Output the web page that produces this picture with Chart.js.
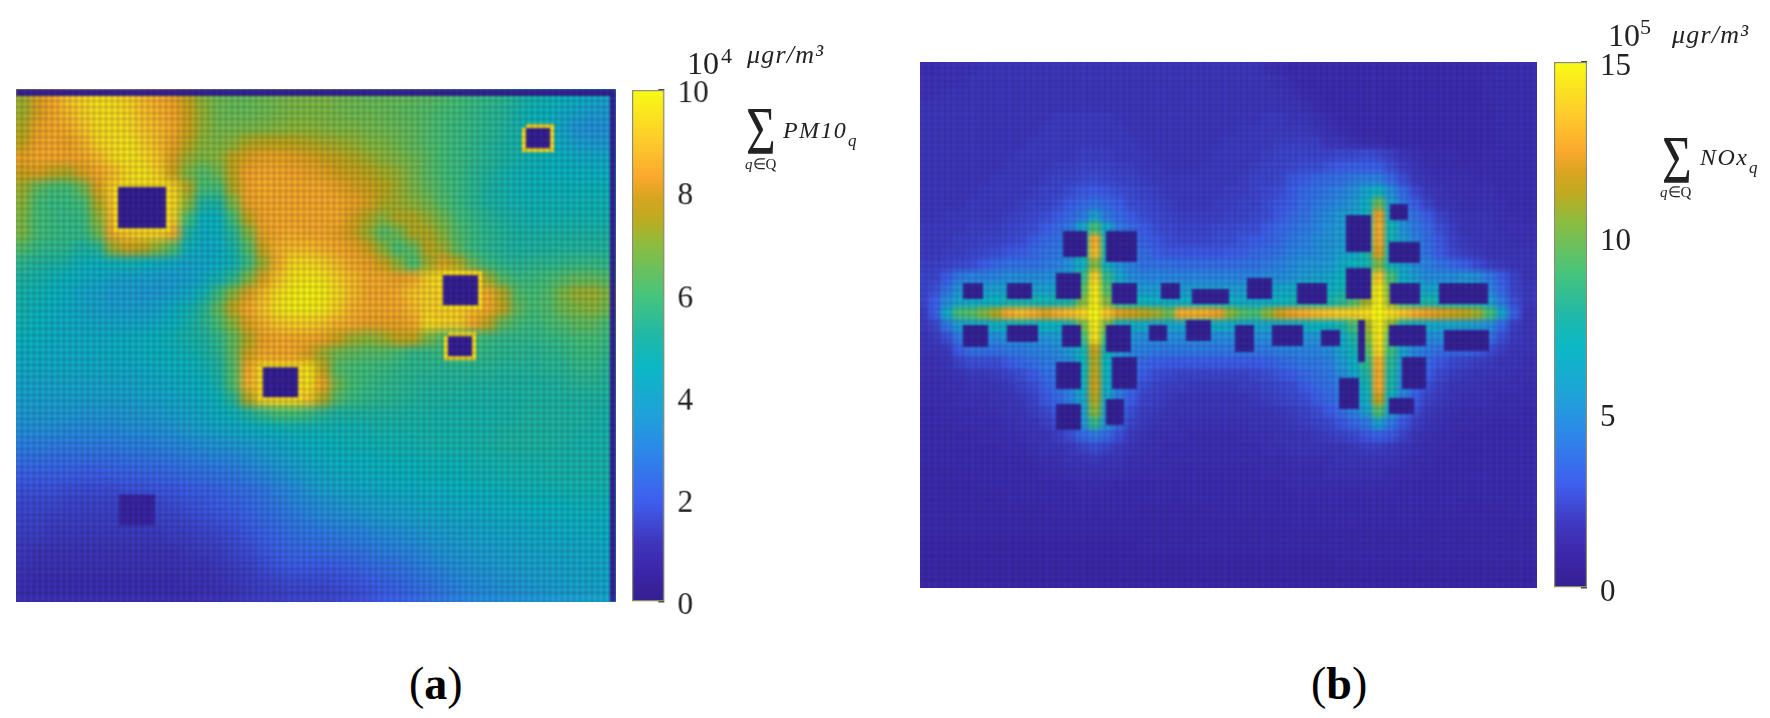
<!DOCTYPE html>
<html><head><meta charset="utf-8">
<script src="https://cdn.jsdelivr.net/npm/chart.js@4/dist/chart.umd.js"></script>
<style>
html,body{margin:0;padding:0;background:#fff;overflow:hidden;width:1770px;height:718px}
.clip{position:absolute;overflow:hidden}
.t{position:absolute;font-family:"Liberation Serif",serif;line-height:1;white-space:nowrap;color:#222;filter:blur(.45px)}
.i{font-style:italic}
</style></head><body>
<script>
// Panel (a): sum of PM10_q, units of 10^3 ugr/m3 (0..100 = colourbar 0..10 x 10^4)
const pm10Rows = [
[72,80,84,90,93,95,94,92,88,85, 82,76,70,66,65,65,66,67,68,68, 68,67,66,65,65,65,64,63,62,60, 58,57,55,52,50,48,46,44,42,40],
[72,80,84,88,92,95,95,93,89,86, 83,78,71,66,65,65,66,67,68,68, 68,67,66,66,65,64,63,62,60,59, 57,55,54,50,47,46,42,40,37,36],
[74,82,84,85,90,94,95,94,90,88, 84,78,71,67,67,67,68,69,70,70, 69,68,68,67,66,65,64,62,60,58, 57,55,53,50,48,48,40,34,33,34],
[76,83,84,82,86,93,95,96,92,88, 82,75,70,68,70,74,75,75,75,74, 73,72,71,69,68,66,64,62,60,58, 56,54,52,50,48,47,42,38,36,36],
[82,84,84,83,84,88,94,96,94,90, 80,72,68,70,76,80,82,82,81,80, 78,76,74,72,70,68,66,63,60,58, 56,54,52,50,48,47,45,43,42,42],
[78,80,76,74,80,84,88,94,96,92, 78,68,62,66,76,83,84,84,83,82, 81,79,77,75,73,71,67,63,60,58, 55,53,50,48,47,46,46,45,45,45],
[72,64,60,60,66,80,92,96,96,96, 92,74,60,60,74,83,85,84,84,84, 84,82,80,78,75,72,68,64,61,58, 55,52,50,48,47,47,47,47,47,47],
[70,60,58,58,60,74,90,92,92,92, 94,70,52,52,68,82,84,84,84,84, 84,84,82,80,74,72,70,67,62,58, 55,52,50,49,48,48,48,48,48,48],
[68,60,58,57,58,70,88,90,90,90, 92,60,46,46,60,76,83,84,84,84, 84,84,80,74,70,74,74,71,66,60, 57,54,52,50,49,49,49,49,49,49],
[68,60,58,57,57,66,84,90,92,92, 85,52,44,45,54,68,82,84,85,84, 84,82,78,72,62,66,74,74,69,62, 58,55,53,51,51,51,51,51,51,51],
[62,57,56,55,52,54,72,78,75,70, 62,47,42,43,50,62,78,86,88,88, 86,84,82,78,70,60,64,75,72,63, 58,55,53,52,52,52,53,53,53,53],
[55,53,52,50,47,46,47,48,46,44, 42,40,41,44,48,58,72,85,94,94, 92,88,84,82,78,70,60,72,80,74, 64,58,55,54,55,55,56,57,57,56],
[52,50,48,46,44,42,40,39,38,37, 37,38,42,48,55,68,80,90,96,97, 96,92,88,84,84,82,84,92,96,95, 84,72,62,58,58,60,62,64,64,62],
[50,48,46,44,41,39,37,37,36,36, 38,42,48,58,70,80,88,95,98,99, 98,94,88,84,84,85,90,92,92,92, 88,84,74,62,60,62,68,72,72,68],
[49,47,45,43,41,39,38,38,38,40, 44,48,54,64,76,84,90,96,98,98, 97,92,86,84,84,84,88,92,92,92, 88,84,76,64,60,62,66,68,70,66],
[48,46,44,43,42,41,41,41,41,43, 46,50,54,60,70,80,86,90,92,92, 90,86,84,82,82,82,84,94,92,92, 84,76,64,60,58,60,62,64,64,60],
[46,45,44,43,43,43,44,44,45,46, 48,50,52,56,64,74,82,84,84,84, 82,78,72,70,72,76,76,68,62,62, 60,58,56,56,56,57,58,60,60,58],
[44,44,43,43,43,43,44,44,45,46, 47,48,50,54,64,78,84,84,84,80, 72,66,64,62,62,60,56,56,58,60, 58,56,55,55,54,55,56,58,58,56],
[42,42,42,42,42,42,42,42,43,44, 45,46,48,52,62,84,94,92,92,96, 76,62,60,59,58,56,55,55,54,54, 54,54,53,53,53,54,54,56,56,54],
[40,40,40,40,40,40,40,40,41,42, 43,44,46,50,62,86,92,90,90,96, 82,66,60,58,56,55,54,53,53,53, 52,52,52,52,52,52,53,54,54,53],
[38,38,38,38,38,38,38,38,39,40, 41,42,44,47,54,74,92,94,94,90, 74,62,58,56,55,54,53,52,52,51, 51,51,51,51,52,52,52,52,52,52],
[36,36,36,36,35,35,35,36,36,37, 38,40,42,44,47,52,56,60,60,58, 54,52,52,52,52,52,51,51,50,50, 50,50,50,51,52,52,52,52,51,50],
[33,33,33,32,32,32,32,33,33,34, 35,37,39,41,42,44,45,47,48,48, 48,48,48,49,50,50,50,50,50,50, 50,50,51,52,52,52,52,51,50,50],
[29,29,28,28,28,28,28,29,29,30, 31,32,34,35,36,37,39,41,43,45, 46,47,48,48,49,49,49,50,50,50, 50,51,52,52,52,52,51,50,50,50],
[25,25,24,24,24,24,24,25,25,26, 27,28,29,30,31,33,35,37,39,42, 44,45,46,46,47,47,47,48,48,48, 49,49,50,50,50,50,50,50,50,50],
[21,21,21,21,20,20,21,21,22,22, 23,24,25,26,27,29,31,33,36,39, 41,43,44,45,45,46,46,47,47,47, 48,48,49,49,49,50,50,50,50,50],
[18,18,18,17,17,17,17,18,18,19, 19,20,21,22,24,25,27,30,32,35, 38,40,41,42,43,44,44,45,45,46, 46,47,47,48,48,48,49,49,49,49],
[16,16,16,15,15,15,15,15,16,16, 17,18,19,20,21,23,25,27,30,32, 34,35,37,38,39,40,41,42,42,43, 44,44,45,45,46,46,46,47,47,47],
[15,15,14,14,14,14,14,14,14,15, 15,16,17,18,19,21,23,25,27,29, 31,32,33,35,36,37,38,39,40,41, 41,42,43,43,44,44,45,45,45,45],
[14,14,13,13,13,13,13,13,13,13, 14,14,15,16,17,19,21,23,25,26, 27,28,29,30,32,33,34,36,37,38, 39,40,41,41,42,42,43,43,44,44],
[13,12,12,12,12,12,12,12,12,12, 12,13,14,14,16,17,19,21,23,23, 24,25,26,27,29,30,31,33,35,36, 37,38,39,40,40,41,41,42,42,43],
[12,11,11,11,11,11,11,11,11,11, 11,12,12,13,14,15,17,19,20,20, 20,21,22,24,25,26,28,30,32,34, 35,36,37,38,39,39,40,40,41,42],
[11,10,10,10,10,10,10,10,10,10, 10,11,11,12,13,14,15,16,17,17, 17,18,19,20,22,23,25,27,29,31, 33,34,35,36,37,38,39,40,40,41],
[10,10,10,10,10,10,10,10,10,10, 10,10,11,11,12,13,14,14,15,15, 15,16,17,18,20,21,23,25,27,29, 31,32,33,34,35,36,37,38,39,40]
];
// Panel (b): sum of NOx_q, percent of colourbar top (100 = 15 x 10^5)
const noxRows = [
[10,10,11,11,11,12,12,12,12,12, 12,12,12,12,12,12,12,12,12,12, 12,12,12,12,12,12,12,12,11,10, 9,9,9,9,9,9,9,9,9,9, 9,9,9,9,9,9,9,10,10,10],
[11,11,11,11,12,12,12,12,12,12, 12,12,12,12,12,12,12,12,12,12, 12,12,12,12,12,12,12,12,12,11, 10,9,9,9,9,9,9,9,9,9, 9,9,9,9,9,9,10,10,10,10],
[11,11,12,12,12,12,12,12,12,12, 12,12,12,12,12,12,12,12,12,12, 12,12,12,12,12,12,12,12,12,12, 11,10,9,9,9,9,9,9,9,9, 9,9,9,9,9,9,10,10,10,10],
[12,12,12,12,12,12,12,12,12,12, 12,12,12,12,12,12,12,12,12,12, 12,12,12,12,12,12,12,12,12,12, 12,11,10,9,9,9,9,9,9,9, 9,9,9,9,9,9,9,10,10,10],
[12,12,12,12,12,12,12,12,12,12, 12,13,13,13,13,13,12,12,12,12, 12,12,12,12,12,12,12,12,13,13, 12,12,11,10,9,9,9,9,9,9, 9,9,9,9,9,9,9,10,10,10],
[12,12,12,12,12,12,12,12,12,12, 13,13,13,13,13,13,13,12,12,12, 12,12,12,12,12,12,13,13,13,13, 13,13,12,11,10,9,9,9,9,9, 9,9,9,9,9,9,9,10,10,10],
[12,12,12,12,12,12,12,12,12,13, 13,13,13,13,13,13,13,13,12,12, 12,12,12,12,12,13,13,13,13,14, 14,14,14,12,12,11,10,10,9,9, 9,9,9,9,9,9,9,10,10,10],
[12,12,12,12,12,12,12,12,13,13, 13,13,13,14,14,14,13,13,13,12, 12,12,12,12,13,13,13,13,14,15, 15,15,15,15,16,16,17,16,14,12, 11,10,10,10,9,9,10,10,10,10],
[12,12,12,12,12,12,12,13,13,13, 13,14,14,15,15,15,14,14,13,13, 12,12,12,13,13,13,13,14,15,15, 16,17,17,19,20,21,21,21,17,14, 12,11,10,10,10,10,10,10,10,10],
[12,12,12,12,12,12,13,13,13,13, 14,15,15,16,17,16,15,15,14,13, 13,13,13,13,13,13,14,15,15,16, 19,20,23,24,25,27,29,29,23,17, 13,12,11,11,11,10,10,10,10,10],
[12,12,12,12,12,13,13,13,13,14, 15,15,17,19,20,19,17,16,15,14, 13,13,13,13,13,14,14,15,16,17, 20,23,25,27,29,33,40,45,32,23, 16,13,12,11,11,11,11,10,10,10],
[12,12,12,12,13,13,13,13,14,15, 15,17,20,23,25,23,20,17,16,15, 14,13,13,13,14,14,15,15,17,19, 21,24,27,29,32,36,44,65,38,27, 20,15,12,12,11,11,11,11,10,10],
[12,12,13,13,13,13,13,14,15,16, 17,20,23,27,38,27,23,20,17,16, 15,14,14,14,14,15,15,16,17,20, 23,25,29,32,36,38,46,82,44,30, 25,20,15,13,12,12,12,11,11,10],
[13,13,13,13,14,14,14,15,16,17, 20,23,27,40,60,40,27,23,20,17, 16,15,15,15,16,16,17,17,20,23, 25,27,30,34,36,38,50,84,48,34, 27,23,17,14,12,12,12,11,11,11],
[13,13,13,14,14,15,15,16,17,20, 23,25,30,48,85,48,30,25,21,19, 17,16,16,16,17,17,19,20,21,24, 27,29,32,34,36,38,52,84,48,36, 29,24,19,15,13,12,12,12,11,11],
[13,13,14,14,15,16,17,19,20,23, 25,27,34,50,88,50,34,27,24,21, 19,19,19,19,19,20,21,23,24,26, 29,30,32,34,38,42,50,80,48,38, 30,25,20,16,14,13,12,12,12,12],
[14,14,15,16,17,20,23,25,25,25, 27,29,34,44,70,44,34,29,25,25, 25,24,24,24,24,24,25,25,27,29, 32,34,34,36,42,46,48,68,48,40, 32,29,25,23,20,17,14,13,12,12],
[15,15,20,27,29,29,30,32,32,32, 32,34,38,56,92,56,40,32,30,30, 30,30,30,30,30,30,30,30,32,32, 34,36,38,40,46,52,62,90,60,42, 36,32,32,32,34,32,27,20,15,12],
[15,17,25,34,36,36,38,38,38,38, 38,40,42,62,97,62,42,38,36,36, 36,36,36,36,36,36,36,36,38,40, 42,42,42,44,48,56,68,97,66,46, 40,40,40,40,42,40,30,23,15,13],
[15,20,32,40,42,44,46,50,50,50, 48,50,52,68,97,68,50,48,46,44, 44,44,46,48,46,44,42,42,44,46, 48,50,50,50,54,62,72,98,70,54, 50,50,48,46,46,46,38,27,17,13],
[13,20,42,60,62,68,74,84,88,85, 80,85,88,92,100,90,80,78,75,72, 66,85,85,85,82,70,62,60,70,78, 82,85,88,90,92,92,95,100,95,90, 85,82,80,78,75,72,60,40,21,12],
[13,15,27,36,40,42,44,46,48,46, 46,46,50,66,97,66,46,44,42,40, 40,40,44,46,44,42,40,40,40,42, 44,44,46,46,50,60,72,98,70,48, 44,42,40,40,38,36,32,23,14,12],
[12,13,17,27,30,30,32,34,34,34, 34,36,40,58,95,58,38,34,32,32, 32,32,32,32,32,32,32,32,32,34, 34,34,34,36,42,52,68,96,62,40, 34,32,32,30,30,29,25,17,13,12],
[12,12,13,20,25,25,25,27,27,29, 30,32,36,48,78,48,36,30,29,27, 27,27,27,27,27,27,27,27,27,29, 29,30,30,32,40,48,62,94,58,38, 30,27,25,23,23,21,17,14,12,12],
[11,11,12,15,17,17,17,20,23,25, 27,29,32,46,74,46,32,27,23,21, 20,20,20,20,20,20,20,20,21,23, 25,27,27,29,36,44,56,85,54,36, 27,23,19,16,15,14,13,12,12,11],
[11,11,11,12,13,13,14,15,17,20, 24,27,32,46,76,46,30,25,20,17, 16,15,15,15,15,15,15,16,17,19, 20,23,25,27,32,40,52,84,52,34, 25,20,16,14,13,12,12,12,11,11],
[10,10,11,11,12,12,12,13,15,17, 21,25,30,44,78,44,29,23,17,15, 14,14,13,13,13,13,14,14,15,16, 17,20,23,25,29,36,48,84,50,32, 23,17,14,12,12,12,11,11,11,10],
[10,10,10,11,11,11,12,12,13,15, 19,23,29,40,74,40,27,20,15,14, 13,12,12,12,12,12,12,13,14,15, 16,17,20,23,27,34,44,78,44,29, 20,15,13,12,11,11,11,10,10,10],
[9,9,10,10,10,11,11,12,12,14, 16,20,27,38,70,38,25,17,14,13, 12,12,12,12,12,12,12,12,12,13, 14,15,17,20,24,29,38,62,38,25, 17,13,12,11,10,10,10,10,10,9],
[9,9,9,10,10,10,10,11,12,12, 14,17,23,34,56,34,23,15,13,12, 12,11,11,11,11,11,11,12,12,12, 13,14,15,16,19,23,27,38,27,19, 14,12,11,10,10,10,9,9,9,9],
[9,9,9,9,9,10,10,10,11,12, 12,14,17,23,27,23,17,13,12,11, 11,11,10,10,10,10,11,11,11,12, 12,12,13,14,15,16,19,21,19,15, 12,11,10,10,9,9,9,9,9,9],
[9,9,9,9,9,9,9,10,10,11, 12,12,13,15,17,15,13,12,11,11, 10,10,10,10,10,10,10,10,11,11, 12,12,12,12,12,13,14,14,13,12, 11,10,10,9,9,9,9,9,9,9],
[9,9,9,9,9,9,9,9,9,10, 11,11,12,12,13,12,12,11,11,10, 10,10,10,10,10,10,10,10,10,10, 11,11,11,11,12,12,12,12,12,11, 10,10,9,9,9,9,9,9,9,9],
[8,8,8,9,9,9,9,9,9,9, 10,10,11,11,11,11,11,10,10,10, 10,9,9,9,9,9,9,9,10,10, 10,10,10,11,11,11,11,11,10,10, 10,9,9,9,9,9,9,9,9,9],
[8,8,8,8,8,9,9,9,9,9, 9,9,9,10,10,10,9,9,9,9, 9,9,9,9,9,9,9,9,9,9, 10,10,10,10,10,10,10,10,10,9, 9,9,9,9,9,9,9,9,9,9],
[8,8,8,8,8,8,8,9,9,9, 9,9,9,9,9,9,9,9,9,9, 9,9,9,9,9,9,9,9,9,9, 9,9,9,9,9,9,9,9,9,9, 9,9,9,9,9,9,9,9,9,9],
[8,8,8,8,8,8,8,8,8,8, 8,9,9,9,9,9,9,9,8,8, 8,8,8,8,9,9,9,9,9,9, 9,9,9,9,9,9,9,9,9,9, 9,9,9,9,8,8,8,8,9,9],
[8,8,8,8,8,8,8,8,8,8, 8,8,8,8,8,8,8,8,8,8, 8,8,8,8,8,8,8,8,8,8, 9,9,9,9,9,9,9,9,9,9, 9,8,8,8,8,8,8,8,8,8],
[8,8,8,8,8,8,8,8,8,8, 8,8,8,8,8,8,8,8,8,8, 8,8,8,8,8,8,8,8,8,8, 8,8,8,8,8,8,8,8,8,8, 8,8,8,8,8,8,8,8,8,8],
[7,7,7,7,7,7,7,7,7,7, 7,7,7,7,7,7,7,7,8,8, 8,8,8,8,8,8,8,8,8,8, 8,8,8,8,8,8,8,8,8,8, 8,8,8,8,8,8,8,8,8,8],
[7,7,7,7,7,7,7,7,7,7, 7,7,7,7,7,7,7,7,7,7, 7,7,7,7,7,7,7,7,7,7, 7,7,7,7,8,8,8,8,8,8, 8,8,8,8,8,8,8,8,8,8],
[7,7,7,7,7,7,7,7,7,7, 7,7,7,7,7,7,7,7,7,7, 7,7,7,7,7,7,7,7,7,7, 7,7,7,7,7,7,7,7,7,7, 7,7,7,7,7,7,7,7,7,7],
[7,7,7,7,7,7,7,7,7,7, 7,7,7,7,7,7,7,7,7,7, 7,7,7,7,7,7,7,7,7,7, 7,7,7,7,7,7,7,7,7,7, 7,7,7,7,7,7,7,7,7,7]
];
// Buildings: [xStart, xEnd, yStart, yEnd] in domain units, y measured from the top of the domain
const pm10Buildings = [[102,150,98,139],[510,534,39,59],[427,462,186,216],[432,456,247,267],[247,282,278,308]];
const pm10Quiet = [[103,139,405,436]];
const pm10Edges = [[0,600,0,7],[594,600,0,512.5]];
const noxBuildings = [
[143,167,169,195],[186,217,169,200],[136,161,211,237],[192,217,221,242],[43,63,221,237],
[87,112,221,237],[241,260,221,237],[272,309,227,242],[327,352,216,237],[43,68,263,285],
[87,118,263,280],[142,161,263,285],[186,211,263,290],[229,247,263,279],[266,291,258,279],
[315,334,263,290],[136,161,300,327],[192,217,295,327],[136,161,342,368],[186,204,337,363],
[426,451,153,190],[470,488,142,158],[469,500,180,201],[426,451,206,237],[377,407,221,242],
[470,500,221,242],[519,568,221,242],[352,383,263,284],[401,420,268,284],[438,445,258,300],
[469,506,263,284],[524,569,268,289],[482,506,295,327],[419,439,316,347],[469,494,336,352]];
const pm10Ticks = [0,2,4,6,8,10];
const noxTicks = [0,5,10,15];

const colorStops = [[0,[52,32,144]],[.06,[60,38,170]],[.117,[63,54,190]],[.2,[63,96,240]],[.3,[43,138,232]],[.37,[30,163,216]],[.46,[12,184,198]],[.52,[32,185,168]],[.6,[71,197,124]],[.7,[143,188,62]],[.75,[192,171,32]],[.79,[216,165,31]],[.83,[251,169,45]],[.9,[254,203,44]],[1,[249,251,21]]];
function colorOf(v){
  const f=Math.max(0,Math.min(1,v/100));
  for(let i=1;i<colorStops.length;i++){
    if(f<=colorStops[i][0]){
      const a=colorStops[i-1],b=colorStops[i],k=(f-a[0])/(b[0]-a[0]);
      return 'rgb('+a[1].map((c,n)=>Math.round(c+(b[1][n]-c)*k)).join(',')+')';
    }
  }
  return 'rgb(249,251,21)';
}
const base={responsive:false,animation:false,devicePixelRatio:1,events:[],
  plugins:{legend:{display:false},tooltip:{enabled:false},title:{display:false}},layout:{padding:0}};

function mk(parent,css,w,h){
  const c=document.createElement('canvas');c.width=w;c.height=h;
  c.style.cssText='position:absolute;display:block;width:'+w+'px;height:'+h+'px;'+css;
  parent.appendChild(c);return c;
}
function panel(o){
  const clip=document.createElement('div');clip.className='clip';
  clip.style.cssText='left:'+o.l+'px;top:'+o.t+'px;width:'+o.w+'px;height:'+o.h+'px';
  document.body.appendChild(clip);
  const rows=o.rows,nc=rows[0].length,nr=rows.length,cw=o.w/nc,ch=o.h/nr;
  // one repeated row and column round the field so the soft edge falls outside the clip
  const pad=[rows[0],...rows,rows[nr-1]].map(r=>[r[0],...r,r[nc-1],r[nc-1]]);
  const W=Math.round((nc+3)*cw),H=Math.round((nr+2)*ch);
  const heat=mk(clip,'left:'+(-cw-o.shift)+'px;top:'+(-ch)+'px;filter:blur('+o.blur+'px);',W,H);
  new Chart(heat,{type:'bar',data:{labels:pad[0].map((_,i)=>i),
    datasets:pad.map(r=>({data:r.map(()=>1),backgroundColor:r.map(colorOf),borderWidth:0,inflateAmount:.6,barPercentage:1,categoryPercentage:1}))},
    options:{...base,scales:{x:{display:false,stacked:true},y:{display:false,stacked:true,reverse:true,min:0,max:pad.length}}}});
  // crisp layer: building footprints and the cell grid
  const rect=r=>[{x:r[0],y:r[2]},{x:r[1],y:r[2]},{x:r[1],y:r[3]},{x:r[0],y:r[3]},{x:r[0],y:r[2]}];
  const fill=(r,col)=>({data:rect(r),showLine:true,fill:'shape',backgroundColor:col,borderColor:col,borderWidth:0,pointRadius:0,tension:0});
  const ds=[];
  o.solid.forEach(r=>ds.push(fill(r,colorOf(2))));
  (o.quiet||[]).forEach(r=>ds.push(fill(r,colorOf(6))));
  (o.rim||[]).forEach(r=>ds.push({data:rect(r),showLine:true,fill:false,borderColor:colorOf(94),borderWidth:8,borderJoinStyle:'miter',pointRadius:0,tension:0}));
  const ov=mk(clip,'left:0;top:0;filter:blur(.8px);',o.w,Math.ceil(o.h));
  const gridOpt={color:o.grid,lineWidth:2,drawTicks:false,z:1};
  new Chart(ov,{type:'scatter',data:{datasets:ds},options:{...base,scales:{
    x:{min:0,max:o.w,border:{display:false},grid:gridOpt,ticks:{display:false,stepSize:o.w/100,autoSkip:false,maxTicksLimit:1000}},
    y:{min:0,max:o.h,reverse:true,border:{display:false},grid:gridOpt,ticks:{display:false,stepSize:o.w/100,autoSkip:false,maxTicksLimit:1000}}}}});
}
function colorbar(o){
  const padV=24,cbW=o.barW+70;
  const c=mk(document.body,'left:'+o.l+'px;top:'+(o.t-padV)+'px;filter:blur(.4px);',cbW,o.h+2*padV);
  new Chart(c,{type:'bar',data:{labels:[''],datasets:[{data:[[0,o.max]],barPercentage:1,categoryPercentage:1,
    borderWidth:1.5,borderColor:'#8a8a70',borderSkipped:false,
    backgroundColor:ctx=>{const a=ctx.chart.chartArea;if(!a)return '#000';
      const g=ctx.chart.ctx.createLinearGradient(0,a.bottom,0,a.top);
      colorStops.forEach(s=>g.addColorStop(s[0],'rgb('+s[1].join(',')+')'));return g;}}]},
    options:{...base,layout:{padding:{top:padV,bottom:padV}},scales:{
      x:{display:false},
      y:{position:'right',min:0,max:o.max,afterFit:s=>{s.width=cbW-o.barW;s.paddingTop=0;s.paddingBottom=0;},
        afterBuildTicks:s=>{s.ticks=o.ticks.map(v=>({value:v}));},
        border:{display:false},
        grid:{drawOnChartArea:false,drawTicks:true,tickLength:-6,color:'#444',lineWidth:1.5},
        ticks:{padding:19,labelOffset:o.lo,color:'#222',font:{family:'"Liberation Serif",serif',size:31},autoSkip:false,maxRotation:0}}}}});
}
panel({l:16,t:89,w:600,h:512.5,rows:pm10Rows,blur:4.5,shift:0,grid:'rgba(0,0,0,.17)',solid:[...pm10Buildings,...pm10Edges],quiet:pm10Quiet,rim:pm10Buildings});
panel({l:920,t:62,w:617,h:526,rows:noxRows,blur:2.8,shift:3.3,grid:'rgba(0,0,0,.13)',solid:noxBuildings});
colorbar({l:632,t:90,h:511.5,barW:32.5,max:10,ticks:pm10Ticks,lo:4});
colorbar({l:1554,t:62,h:526,barW:33,max:15,ticks:noxTicks,lo:5});

const texts=[
['10',687,47,32,''],['4',721,45,22,''],['μgr/m³',747,42,26,'i;letter-spacing:1.2px'],
['Σ',746,96,68,'s'],['PM10',783,118,24,'i;letter-spacing:1.4px'],['q',848,132,17,'i'],['<span class="i">q</span>∈Q',745,157,15,''],
['10',1608,19,32,''],['5',1640,16,22,''],['μgr/m³',1672,22,26,'i;letter-spacing:1.2px'],
['Σ',1662,125,68,'s'],['NOx',1700,145,24,'i;letter-spacing:1.4px'],['q',1749,159,17,'i'],['<span class="i">q</span>∈Q',1660,185,15,''],
['(<b>a</b>)',409,661,46,'k'],['(<b>b</b>)',1311,661,46,'k']];
texts.forEach(t=>{
  const d=document.createElement('div');d.className='t';d.innerHTML=t[0];
  let css='left:'+t[1]+'px;top:'+t[2]+'px;font-size:'+t[3]+'px;';
  if(t[4].startsWith('i')){css+='font-style:italic;'+t[4].slice(2);}
  if(t[4]==='s'){css+='transform:scaleX(.75);transform-origin:0 0;';}
  if(t[4]==='k'){css+='color:#000;filter:none;';}
  d.style.cssText=css;document.body.appendChild(d);
});
</script>
</body></html>
